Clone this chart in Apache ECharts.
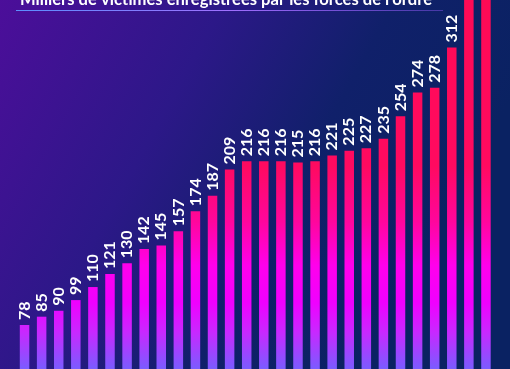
<!DOCTYPE html>
<html><head><meta charset="utf-8">
<script src="https://cdn.jsdelivr.net/npm/echarts@6/dist/echarts.min.js"></script>
<style>html,body{margin:0;padding:0;width:510px;height:369px;overflow:hidden}#c{width:510px;height:369px}</style>
</head><body><div id="c"></div>
<script>
const categories = ["1996","1997","1998","1999","2000","2001","2002","2003","2004","2005","2006","2007","2008","2009","2010","2011","2012","2013","2014","2015","2016","2017","2018","2019","2020","2021","2022","2023"];
const victims = [78,85,90,99,110,121,130,142,145,157,174,187,209,216,216,216,215,216,221,225,227,235,254,274,278,312,360,395];
const titleText = "Milliers de victimes enregistrées par les forces de l'ordre";

const chart = echarts.init(document.getElementById('c'), null, {renderer:'canvas'});
const barGrad = {type:'linear', x:0, y:0, x2:0, y2:369, global:true, colorStops:[
  {offset:0, color:'#ff0a55'},
  {offset:0.45, color:'#ff0a60'},
  {offset:0.6, color:'#ff069c'},
  {offset:0.72, color:'#ff00ec'},
  {offset:0.82, color:'#f000ff'},
  {offset:0.9, color:'#c828ff'},
  {offset:1, color:'#7a5cff'}
]};
chart.setOption({
  backgroundColor:{type:'linear', x:0, y:0, x2:0.85, y2:0.65, colorStops:[
    {offset:0, color:'#4c0e9a'},
    {offset:0.4, color:'#2c1888'},
    {offset:0.7, color:'#10206a'},
    {offset:1, color:'#0a2262'}
  ]},
  title:{text:titleText, left:15, top:-14, textStyle:{color:'#ffffff', fontSize:16.6, fontWeight:'bold', fontFamily:'Lato'}},
  graphic:[{type:'line', shape:{x1:16, y1:10.5, x2:443, y2:10.5}, style:{lineWidth:1, stroke:{type:'linear', x:0, y:0, x2:1, y2:0, colorStops:[{offset:0,color:'#5a90ff'},{offset:0.5,color:'#a070ff'},{offset:1,color:'rgba(150,90,255,0.4)'}]}}}],
  grid:{left:16, right:15.5, top:0, bottom:0},
  xAxis:{type:'category', data:categories, show:false},
  yAxis:{type:'value', min:40.9, max:352, show:false},
  series:[{type:'bar', data:victims, barWidth:9.5, clip:true, itemStyle:{color:barGrad},
    label:{show:true, position:'top', rotate:90, align:'left', verticalAlign:'middle', distance:5,
      color:'#ffffff', fontSize:16, fontWeight:'bold', fontFamily:'Lato'}}]
});
</script></body></html>
